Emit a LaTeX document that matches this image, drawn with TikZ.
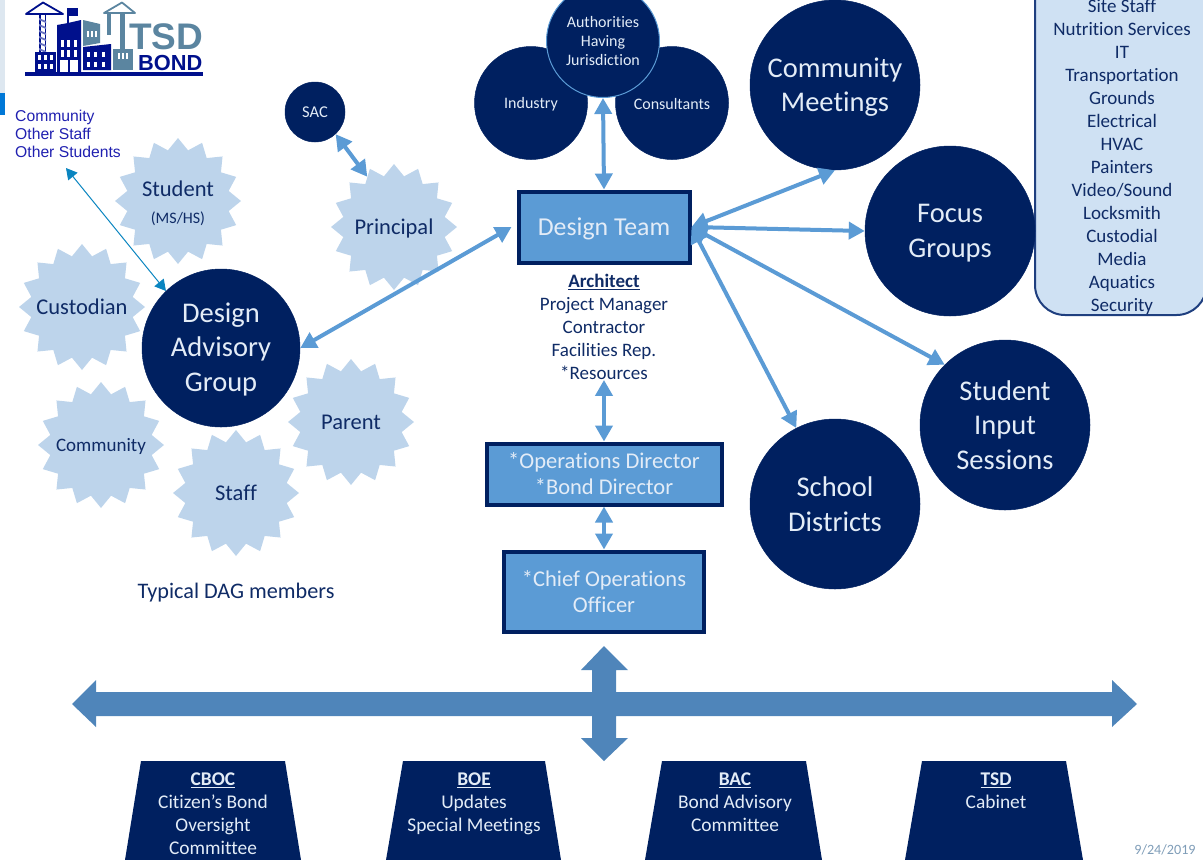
\documentclass[tikz,border=0pt]{standalone}
\usepackage{fontspec}
\setmainfont{Carlito}[RawFeature=-liga]
\newfontfamily\arialf{Liberation Sans}
\usetikzlibrary{arrows.meta,shapes.geometric}
\definecolor{navy}{HTML}{002060}
\definecolor{inktxt}{HTML}{0F2B66}
\definecolor{paletxt}{HTML}{E3ECF7}
\definecolor{linkblue}{HTML}{5B9BD5}
\definecolor{starblue}{HTML}{BDD4EB}
\definecolor{panelblue}{HTML}{CFE1F3}
\definecolor{crossblue}{HTML}{4F85BA}
\definecolor{logonavy}{HTML}{00108C}
\definecolor{logostripe}{HTML}{6A74C0}
\definecolor{logogray}{HTML}{5B85A0}
\definecolor{thinblue}{HTML}{0A85C0}
\definecolor{otherblue}{HTML}{2020B0}
\definecolor{edgepale}{HTML}{DDE7F0}
\definecolor{edgeblue}{HTML}{0078D7}
\definecolor{datecol}{HTML}{7F9DB8}
\definecolor{panelline}{HTML}{1F3F7F}
\newcommand{\fs}[2]{\fontsize{#1pt}{#2pt}\selectfont}
\tikzset{
  x=1pt,y=-1pt,
  dot/.style={circle,fill=navy,draw=navy,line width=.5pt,inner sep=0pt,text=paletxt,align=center},
  bigdot/.style={dot,minimum size=170pt},
  bigsay/.style={inner sep=0pt,outer sep=0pt,text=paletxt,align=center,font=\fs{28.5}{34.5}},
  smalldot/.style={dot,minimum size=113pt,font=\fs{16}{19}},
  burst/.style={star,star points=16,star point ratio=1.22,fill=starblue,inner sep=0pt,minimum size=126pt},
  burstsay/.style={inner sep=0pt,outer sep=0pt,text=inktxt,align=center,font=\fs{22.5}{26}},
  teambox/.style={rectangle,fill=linkblue,draw=navy,line width=4pt,text=paletxt,align=center,inner sep=0pt},
  link/.style={line width=4pt,draw=linkblue,arrows={Triangle[length=16pt,width=17pt]-Triangle[length=16pt,width=17pt]}},
  thinlink/.style={line width=1pt,draw=thinblue,arrows={Triangle[length=11pt,width=12pt]-Triangle[length=11pt,width=12pt]}},
  blocktxt/.style={text=inktxt,align=center,inner sep=0pt,font=\fs{19}{23}},
  lidtxt/.style={text=paletxt,align=center,inner sep=0pt,font=\fs{19.4}{23},anchor=north},
  lid/.style={fill=navy},
  logob/.style={fill=logonavy},
  logog/.style={fill=logogray},
  win/.style={fill=white},
}
\begin{document}
\begin{tikzpicture}
\clip (0,0) rectangle (1203,860);
% left edge slide remnants
\fill[edgepale] (0,0) rectangle (5,93);
\fill[edgeblue] (0,93) rectangle (5,115);
% logo
\fill[logob] (25,72) rectangle (203,76);
\draw[logonavy,line width=1.8pt,line join=round] (26,14) -- (43,2.5) -- (63,14) -- cycle;
\fill[logob] (39,14) rectangle (40.5,52);
\fill[logob] (44.5,14) rectangle (46,52);
\foreach \y in {18,24,...,48} \fill[logostripe] (39,\y) -- (46,\y+3) -- (46,\y+5) -- (39,\y+2) -- cycle;
\fill[logob] (35,52) rectangle (56,72);
\fill[logob] (57,25) -- (68,23) -- (81,20) -- (81,72) -- (57,72) -- cycle;
\fill[logob] (67,8) rectangle (69,23);
\fill[logob] (69,8) rectangle (78,16);
\foreach \x in {38,44,50} \foreach \y in {55,64} \fill[win] (\x,\y) rectangle +(3,5);
\foreach \x in {61,67,74} \foreach \y in {40,50} \fill[win] (\x,\y) rectangle +(3,7);
\fill[win] (60,60) rectangle (78,72);
\fill[logob] (68,60) rectangle (70,72);
\fill[logog] (83,20) -- (100,24) -- (100,43) -- (83,46) -- cycle;
\foreach \x in {87,91,95} \fill[win] (\x,31) rectangle +(2,6);
\fill[logob] (83,47) -- (111,44) -- (111,70) -- (83,70) -- cycle;
\foreach \x in {87,94,102} \foreach \y in {52,62} \fill[win] (\x,\y) rectangle +(3,5);
\draw[logogray,line width=1.8pt,line join=round] (104,13) -- (122,2.5) -- (135,13) -- cycle;
\fill[logog] (120,13) rectangle (125,49);
\fill[logog] (107,13) rectangle (111,35);
\fill[logog] (113,49) rectangle (133,70);
\foreach \x in {118,122,126} \fill[win] (\x,53) rectangle +(2,6);
\node[anchor=base west,inner sep=0pt,text=logogray,font=\arialf\bfseries\fs{37}{37}] (logotsd) at (129,49) {TSD};
\node[anchor=base west,inner sep=0pt,text=logonavy,font=\arialf\bfseries\fs{21.8}{21.8}] (logobond) at (138,70) {BOND};
% side panel
\node[draw=panelline,line width=2pt,fill=panelblue,rounded corners=30pt,minimum width=171.5pt,minimum height=380pt,anchor=south west] (panel) at (1034,316) {};
\node[blocktxt] (staff) at (1122,156.5) {Site Staff\\Nutrition Services\\IT\\Transportation\\Grounds\\Electrical\\HVAC\\Painters\\Video/Sound\\Locksmith\\Custodial\\Media\\Aquatics\\Security};
% stars
\node[burst,label={[burstsay,yshift=-2pt]center:{Student\\[1pt]{\fs{16}{18}(MS/HS)}}}] (student) at (178,201) {};
\node[burst,label={[burstsay,yshift=-1pt]center:{Principal}}] (principal) at (394,227) {};
\node[burst,label={[burstsay]center:{Custodian}}] (custodian) at (82,307) {};
\node[burst,label={[burstsay,yshift=-1pt]center:{\fs{19}{22}Community}}] (community) at (101,445) {};
\node[burst,label={[burstsay]center:{Parent}}] (parent) at (351,422) {};
\node[burst,label={[burstsay]center:{Staff}}] (staffstar) at (236,493) {};
% circles
\node[dot,minimum size=60pt,font=\fs{16.5}{18}] (sac) at (315,112) {SAC};
\node[dot,minimum size=158pt,label={[bigsay,yshift=-1pt]center:{Design\\Advisory\\Group}}] (dag) at (221,348) {};
\node[smalldot,label={[inner sep=0pt,text=paletxt,font=\fs{16}{19},yshift=-1pt]center:{Industry}}] (industry) at (531,103) {};
\node[smalldot,label={[inner sep=0pt,text=paletxt,font=\fs{16}{19},yshift=-1pt]center:{Consultants}}] (consultants) at (672,103) {};
\node[smalldot,draw=linkblue,line width=1pt] (ahj) at (603,41) {Authorities\\Having\\Jurisdiction};
\node[bigdot,label={[bigsay,yshift=-2pt]center:{Community\\Meetings}}] (meetings) at (835,85) {};
\node[bigdot,label={[bigsay,yshift=-2pt]center:{Focus\\Groups}}] (focus) at (950,231) {};
\node[bigdot,label={[bigsay]center:{Student\\Input\\Sessions}}] (input) at (1005,425) {};
\node[bigdot,label={[bigsay]center:{School\\Districts}}] (districts) at (835,504) {};
% boxes
\node[teambox,minimum width=171pt,minimum height=71pt,label={[inner sep=0pt,text=paletxt,font=\fs{25.8}{28},yshift=-2pt]center:{Design Team}}] (team) at (604,227) {};
\node[blocktxt] (arch) at (604,327) {\textbf{\underline{Architect}}\\Project Manager\\Contractor\\Facilities Rep.\\*Resources};
\node[teambox,minimum width=235pt,minimum height=61pt,font=\fs{22.5}{26}] (ops) at (604,474) {*Operations Director\\*Bond Director};
\node[teambox,minimum width=200pt,minimum height=80pt,font=\fs{22.5}{26}] (coo) at (604,591.5) {*Chief Operations\\Officer};
\node[inner sep=0pt,text=inktxt,font=\fs{22.2}{24}] (typical) at (236,593) {Typical DAG members};
\node[anchor=north west,inner sep=0pt,align=left,text=otherblue,font=\arialf\fs{15.7}{18}] (others) at (15,110) {Community\\Other Staff\\Other Students};
\node[inner sep=0pt,text=datecol,font=\fs{14.2}{15}] (date) at (1165,850) {9/24/2019};
% connectors
\coordinate (othersend) at (66,168);
\draw[thinlink] (othersend) -- (dag.134);
\draw[link] (sac.-47) -- (principal.118);
\draw[link] (ahj.south) -- (team.north);
\draw[link] (dag.east) -- ([xshift=-5pt]team.west);
\draw[link] (team.east) -- (meetings.south);
\draw[link] (team.east) -- (focus.west);
\draw[link] (team.east) -- (input.135);
\draw[link] (team.east) -- (districts.117);
\draw[link] (arch.south) -- (ops.north);
\draw[link] (ops.south) -- (coo.north);
% cross arrow
\fill[crossblue] (72,704) -- (96,680) -- (96,692) -- (592,692) -- (592,670) -- (581,670) -- (604,646) -- (628,670) -- (616,670) -- (616,692) -- (1112,692) -- (1112,680) -- (1137,704) -- (1112,727) -- (1112,716) -- (616,716) -- (616,738) -- (628,738) -- (604,761) -- (581,738) -- (592,738) -- (592,716) -- (96,716) -- (96,727) -- cycle;
% bottom lids
\fill[lid] (141,761) -- (285,761) -- (301,860) -- (125,860) -- cycle;
\fill[lid] (403,761) -- (545,761) -- (561,860) -- (386,860) -- cycle;
\fill[lid] (662,761) -- (806,761) -- (822,860) -- (645,860) -- cycle;
\fill[lid] (922,761) -- (1066,761) -- (1083,860) -- (905,860) -- cycle;
\node[lidtxt] (cboc) at (213,773) {\textbf{\underline{CBOC}}\\Citizen’s Bond\\Oversight\\Committee};
\node[lidtxt] (boe) at (474,773) {\textbf{\underline{BOE}}\\Updates\\Special Meetings};
\node[lidtxt] (bac) at (735,773) {\textbf{\underline{BAC}}\\Bond Advisory\\Committee};
\node[lidtxt] (tsd) at (996,773) {\textbf{\underline{TSD}}\\Cabinet};
\end{tikzpicture}
\end{document}
